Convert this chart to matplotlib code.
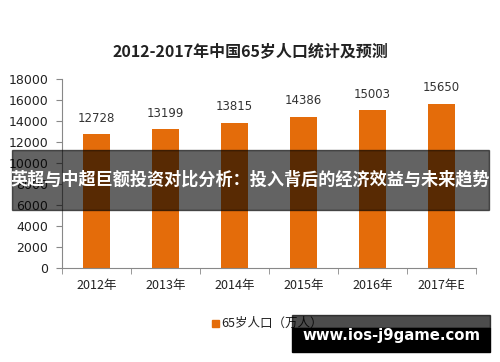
import matplotlib
matplotlib.use('Agg')
import matplotlib.pyplot as plt
import matplotlib.patches as patches

plt.rcParams['font.family'] = ['Noto Sans CJK SC', 'DejaVu Sans']

years = ['2012年', '2013年', '2014年', '2015年', '2016年', '2017年E']
population = [12728, 13199, 13815, 14386, 15003, 15650]
yticks = [0, 2000, 4000, 6000, 8000, 10000, 12000, 14000, 16000, 18000]

bar_color = '#E46C0A'

fig = plt.figure(figsize=(5, 3.62), dpi=100)
ax = fig.add_axes([0.124, 0.26, 0.828, 0.522])

x = list(range(len(years)))
ax.bar(x, population, width=0.39, color=bar_color, zorder=2)
for xi, v in zip(x, population):
    ax.text(xi, v + 900, str(v), ha='center', va='bottom', fontsize=8.5,
            color='#333333', family='DejaVu Sans')

ax.set_xlim(-0.5, len(years) - 0.5)
ax.set_ylim(0, 18000)
ax.set_yticks(yticks)
ax.set_yticklabels([str(t) for t in yticks], fontsize=9, color='#222222', family='DejaVu Sans')
ax.set_xticks(x)
ax.set_xticklabels(years, fontsize=9, color='#222222')
ax.set_xticks([i - 0.5 for i in range(len(years) + 1)], minor=True)
ax.tick_params(axis='x', which='major', length=0, pad=8)
ax.tick_params(axis='x', which='minor', length=4, color='#888888')
ax.tick_params(axis='y', length=4, color='#888888', pad=6)
for s in ['top', 'right']:
    ax.spines[s].set_visible(False)
ax.spines['left'].set_color('#888888')
ax.spines['bottom'].set_color('#888888')

fig.text(0.5, 0.857, '2012-2017年中国65岁人口统计及预测', ha='center', va='center',
         fontsize=11.5, fontweight='bold', color='#222222')

# legend
fig.patches.append(patches.Rectangle((0.424, 0.097), 0.014, 0.02, transform=fig.transFigure,
                                     color=bar_color, figure=fig))
fig.text(0.442, 0.107, '65岁人口（万人）', ha='left', va='center', fontsize=9, color='#222222')

# overlay banner
fig.patches.append(patches.Rectangle((0.024, 0.42), 0.954, 0.166, transform=fig.transFigure,
                                     color='black', alpha=0.61, figure=fig, zorder=5))
fig.text(0.5, 0.503, '英超与中超巨额投资对比分析：投入背后的经济效益与未来趋势', ha='center',
         va='center', fontsize=12.3, fontweight='bold', color='white', zorder=6)

# site stamp bottom right
fig.patches.append(patches.Rectangle((0.584, 0.094), 0.396, 0.036, transform=fig.transFigure,
                                     color='black', alpha=0.7, figure=fig, zorder=5))
fig.patches.append(patches.Rectangle((0.584, 0.028), 0.396, 0.066, transform=fig.transFigure,
                                     color='black', figure=fig, zorder=5))
fig.text(0.782, 0.072, 'www.ios-j9game.com', ha='center', va='center', fontsize=10.7,
         fontweight='bold', color='white', zorder=6, family='DejaVu Sans')

fig.savefig('out.png', dpi=100, facecolor='white')
